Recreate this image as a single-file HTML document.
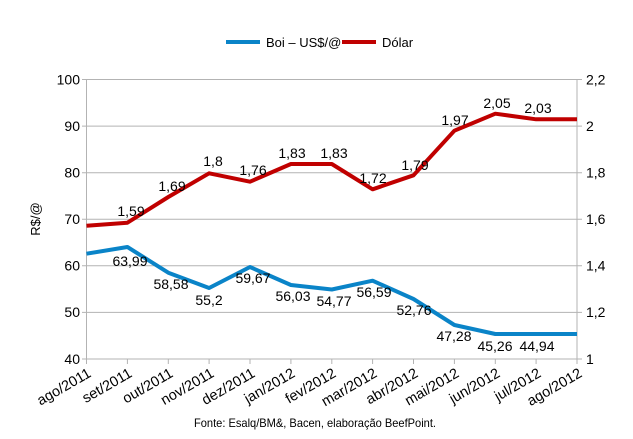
<!DOCTYPE html>
<html><head><meta charset="utf-8"><style>
body{margin:0;background:#fff}
svg{display:block;font-family:"Liberation Sans",sans-serif}
</style></head><body>
<svg width="633" height="439" viewBox="0 0 633 439">
<g stroke="#b3b3b3" stroke-width="1">
<line x1="82" y1="79.5" x2="582" y2="79.5"/>
<line x1="82" y1="126.1" x2="582" y2="126.1"/>
<line x1="82" y1="172.7" x2="582" y2="172.7"/>
<line x1="82" y1="219.2" x2="582" y2="219.2"/>
<line x1="82" y1="265.8" x2="582" y2="265.8"/>
<line x1="82" y1="312.4" x2="582" y2="312.4"/>
<line x1="82" y1="359" x2="582" y2="359"/>
<line x1="86.5" y1="79.5" x2="86.5" y2="364"/>
<line x1="577" y1="79.5" x2="577" y2="364"/>
<g>
<line x1="127.4" y1="359" x2="127.4" y2="364"/><line x1="168.3" y1="359" x2="168.3" y2="364"/>
<line x1="209.1" y1="359" x2="209.1" y2="364"/><line x1="250" y1="359" x2="250" y2="364"/>
<line x1="290.9" y1="359" x2="290.9" y2="364"/><line x1="331.8" y1="359" x2="331.8" y2="364"/>
<line x1="372.6" y1="359" x2="372.6" y2="364"/><line x1="413.5" y1="359" x2="413.5" y2="364"/>
<line x1="454.4" y1="359" x2="454.4" y2="364"/><line x1="495.3" y1="359" x2="495.3" y2="364"/>
<line x1="536.1" y1="359" x2="536.1" y2="364"/>
</g></g>
<g font-size="14" fill="#000" text-anchor="end">
<text x="80" y="84.5">100</text><text x="80" y="131">90</text><text x="80" y="177.5">80</text>
<text x="80" y="224">70</text><text x="80" y="270.5">60</text><text x="80" y="317">50</text><text x="80" y="364">40</text>
</g>
<g font-size="14" fill="#000">
<text x="586" y="84.5">2,2</text><text x="586" y="131">2</text><text x="586" y="177.5">1,8</text>
<text x="586" y="224">1,6</text><text x="586" y="270.5">1,4</text><text x="586" y="317">1,2</text><text x="586" y="364">1</text>
</g>
<text x="40" y="219" font-size="13" transform="rotate(-90 40 219)" text-anchor="middle">R$/@</text>
<g font-size="14.5" text-anchor="end">
<text transform="translate(92,376) rotate(-30)">ago/2011</text>
<text transform="translate(133,376) rotate(-30)">set/2011</text>
<text transform="translate(174,376) rotate(-30)">out/2011</text>
<text transform="translate(215,376) rotate(-30)">nov/2011</text>
<text transform="translate(256,376) rotate(-30)">dez/2011</text>
<text transform="translate(296,376) rotate(-30)">jan/2012</text>
<text transform="translate(337,376) rotate(-30)">fev/2012</text>
<text transform="translate(378,376) rotate(-30)">mar/2012</text>
<text transform="translate(419,376) rotate(-30)">abr/2012</text>
<text transform="translate(460,376) rotate(-30)">mai/2012</text>
<text transform="translate(501,376) rotate(-30)">jun/2012</text>
<text transform="translate(542,376) rotate(-30)">jul/2012</text>
<text transform="translate(583,376) rotate(-30)">ago/2012</text>
</g>
<polyline fill="none" stroke="#c00000" stroke-width="4" stroke-linejoin="round" points="86.5,225.7 127.4,222.7 168.3,197 209.1,173.3 250,181.7 290.9,164 331.8,164 372.6,189.3 413.5,175.3 454.4,130.7 495.3,113.7 536.1,119.3 577,119.3"/>
<polyline fill="none" stroke="#0a84c8" stroke-width="4" stroke-linejoin="round" points="86.5,253.7 127.4,247 168.3,272.7 209.1,288 250,267 290.9,285 331.8,289.5 372.6,280.7 413.5,299 454.4,325 495.3,334 536.1,334 577,334"/>
<g font-size="14" text-anchor="middle">
<text x="131" y="216">1,59</text><text x="172" y="191">1,69</text><text x="213" y="166">1,8</text>
<text x="253" y="175">1,76</text><text x="292" y="158">1,83</text><text x="334" y="158">1,83</text>
<text x="373" y="183">1,72</text><text x="415" y="170">1,79</text><text x="455" y="125">1,97</text>
<text x="497" y="108">2,05</text><text x="538" y="113">2,03</text>
<text x="130" y="266">63,99</text><text x="171" y="289">58,58</text><text x="209" y="305">55,2</text>
<text x="253" y="283">59,67</text><text x="293" y="301">56,03</text><text x="334" y="306">54,77</text>
<text x="374" y="297">56,59</text><text x="414" y="315">52,76</text><text x="454" y="341">47,28</text>
<text x="495" y="351">45,26</text><text x="537" y="351">44,94</text>
</g>
<line x1="226" y1="42" x2="260" y2="42" stroke="#0a84c8" stroke-width="4"/>
<text x="266" y="47" font-size="13">Boi – US$/@</text>
<line x1="342" y1="42" x2="376" y2="42" stroke="#c00000" stroke-width="4"/>
<text x="382" y="47" font-size="13">Dólar</text>
<text x="315" y="427" font-size="12" text-anchor="middle" textLength="242" lengthAdjust="spacingAndGlyphs">Fonte: Esalq/BM&amp;, Bacen, elaboração BeefPoint.</text>
</svg>
</body></html>
